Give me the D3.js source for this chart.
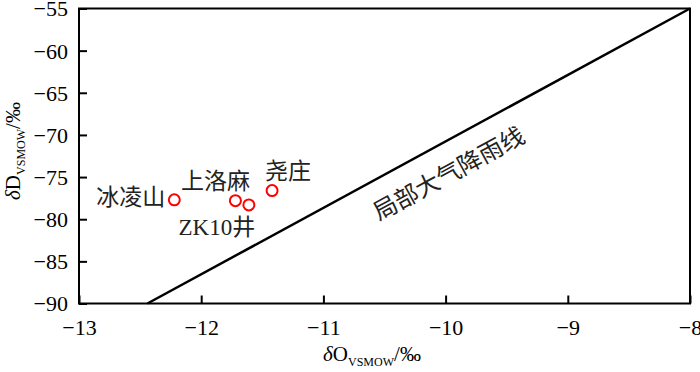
<!DOCTYPE html>
<html>
<head>
<meta charset="utf-8">
<script src="https://cdn.jsdelivr.net/npm/d3@7"></script>
<style>
	body { margin: 0; background: #fff; }
	svg { display: block; }
</style>
</head>
<body>
<div id="chart"></div>
<script>
// data
var siteNames = ["冰凌山", "上洛麻", "ZK10井", "尧庄"];
var siteO18 = [-12.22, -11.72, -11.61, -11.42];
var siteD = [-77.7, -77.8, -78.3, -76.6];
var lmwlO18 = [-12.44, -8];
var lmwlD = [-90, -55];
var lmwlLabel = "局部大气降雨线";
var xTicks = [-13, -12, -11, -10, -9, -8];
var yTicks = [-90, -85, -80, -75, -70, -65, -60, -55];

var WIDTH = 700;
var HEIGHT = 372;
var margin = { top: 8.5, right: 10, bottom: 68.5, left: 79 };
var plotWidth = WIDTH - margin.left - margin.right;
var plotHeight = HEIGHT - margin.top - margin.bottom;

var SERIF = '"Liberation Serif", "Times New Roman", "Noto Sans CJK SC", serif';
var CJK = '"Noto Sans CJK SC", "Liberation Serif", sans-serif';

// label placement relative to each point (px)
var labelOffsets = [
	{ dx: -9, dy: -2, anchor: "end" },
	{ dx: -20, dy: -19, anchor: "middle" },
	{ dx: -32, dy: 23, anchor: "middle" },
	{ dx: 16, dy: -19, anchor: "middle" }
];

var svg = d3.select("#chart").append("svg")
	.attr("width", WIDTH).attr("height", HEIGHT);

var inner = svg.append("g")
	.attr("transform", `translate(${margin.left},${margin.top})`);

// scales
var xScale = d3.scaleLinear().domain([-13, -8]).range([0, plotWidth]);
var yScale = d3.scaleLinear().domain([-90, -55]).range([plotHeight, 0]);

// axes
var fmt = d3.format("d");
var xAxisG = inner.append("g")
	.attr("transform", `translate(0,${plotHeight})`)
	.call(d3.axisBottom(xScale).tickValues(xTicks).tickFormat(fmt)
		.tickSizeInner(-8).tickSizeOuter(0).tickPadding(16));
var yAxisG = inner.append("g")
	.call(d3.axisLeft(yScale).tickValues(yTicks).tickFormat(fmt)
		.tickSizeInner(-8).tickSizeOuter(0).tickPadding(11));

[xAxisG, yAxisG].forEach(g => {
	g.attr("font-family", null).attr("font-size", null);
	g.select(".domain").remove();
	g.selectAll(".tick line").attr("stroke", "#000").attr("stroke-width", 2);
	g.selectAll(".tick text")
		.attr("fill", "#000")
		.style("font-family", SERIF)
		.style("font-size", "22px");
});
yAxisG.selectAll(".tick text").attr("dy", "0.34em");

// frame
inner.append("rect")
	.attr("width", plotWidth).attr("height", plotHeight)
	.attr("fill", "none").attr("stroke", "#000").attr("stroke-width", 2);

// meteoric water line
var lineData = lmwlO18.map((x, i) => [x, lmwlD[i]]);
inner.append("path")
	.datum(lineData)
	.attr("fill", "none")
	.attr("stroke", "#000")
	.attr("stroke-width", 2.5)
	.attr("d", d3.line().x(d => xScale(d[0])).y(d => yScale(d[1])));

var angle = Math.atan2(yScale(lmwlD[1]) - yScale(lmwlD[0]), xScale(lmwlO18[1]) - xScale(lmwlO18[0])) * 180 / Math.PI;
var midX = (xScale(lmwlO18[0]) + xScale(lmwlO18[1])) / 2;
var midY = (yScale(lmwlD[0]) + yScale(lmwlD[1])) / 2;
inner.append("text")
	.attr("transform", `translate(${midX + 29},${midY + 16}) rotate(${angle})`)
	.attr("text-anchor", "middle")
	.attr("dominant-baseline", "central")
	.style("font-family", CJK)
	.style("font-size", "24px")
	.attr("fill", "#222")
	.text(lmwlLabel);

// points
var points = siteNames.map((name, i) => ({ name: name, x: siteO18[i], y: siteD[i] }));

inner.selectAll(".pt")
	.data(points)
	.enter()
	.append("circle")
	.attr("class", "pt")
	.attr("cx", d => xScale(d.x))
	.attr("cy", d => yScale(d.y))
	.attr("r", 5.5)
	.attr("fill", "none")
	.attr("stroke", "#f00")
	.attr("stroke-width", 2);

inner.selectAll(".lbl")
	.data(points)
	.enter()
	.append("text")
	.attr("class", "lbl")
	.attr("x", (d, i) => xScale(d.x) + labelOffsets[i].dx)
	.attr("y", (d, i) => yScale(d.y) + labelOffsets[i].dy)
	.attr("text-anchor", (d, i) => labelOffsets[i].anchor)
	.attr("dominant-baseline", "central")
	.style("font-family", SERIF)
	.style("font-size", "23px")
	.attr("fill", "#222")
	.text(d => d.name);

// axis titles
var xTitle = svg.append("text")
	.attr("x", 372)
	.attr("y", 361)
	.attr("text-anchor", "middle")
	.style("font-family", SERIF)
	.style("font-size", "21px")
	.attr("fill", "#000");
xTitle.append("tspan").style("font-style", "italic").text("δ");
xTitle.append("tspan").text("O");
xTitle.append("tspan").attr("dy", 5).style("font-size", "12px").text("VSMOW");
xTitle.append("tspan").attr("dy", -5).text("/‰");

var yTitle = svg.append("text")
	.attr("transform", `translate(20,${margin.top + plotHeight / 2 - 5}) rotate(-90)`)
	.attr("text-anchor", "middle")
	.style("font-family", SERIF)
	.style("font-size", "21px")
	.attr("fill", "#000");
yTitle.append("tspan").style("font-style", "italic").text("δ");
yTitle.append("tspan").text("D");
yTitle.append("tspan").attr("dy", 5).style("font-size", "12px").text("VSMOW");
yTitle.append("tspan").attr("dy", -5).text("/‰");
</script>
</body>
</html>
